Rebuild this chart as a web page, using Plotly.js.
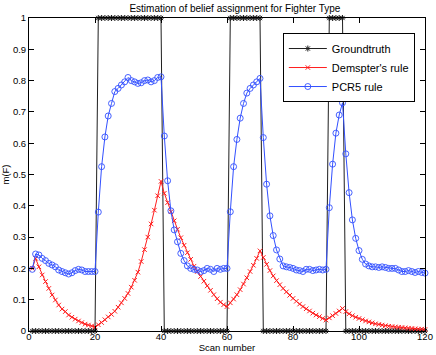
<!DOCTYPE html>
<html><head><meta charset="utf-8">
<script src="https://cdn.plot.ly/plotly-3.0.1.min.js"></script>
<style>html,body{margin:0;padding:0;background:#fff;} #chart{width:436px;height:355px;}</style>
</head><body><div id="chart"></div>
<script>
const scans = [1,2,3,4,5,6,7,8,9,10,11,12,13,14,15,16,17,18,19,20,
  21,22,23,24,25,26,27,28,29,30,31,32,33,34,35,36,37,38,39,40,
  41,42,43,44,45,46,47,48,49,50,51,52,53,54,55,56,57,58,59,60,
  61,62,63,64,65,66,67,68,69,70,71,72,73,74,75,76,77,78,79,80,
  81,82,83,84,85,86,87,88,89,90,91,92,93,94,95,96,97,98,99,100,
  101,102,103,104,105,106,107,108,109,110,111,112,113,114,115,116,117,118,119,120];

const groundtruth = [0,0,0,0,0,0,0,0,0,0,0,0,0,0,0,0,0,0,0,0,
  1,1,1,1,1,1,1,1,1,1,1,1,1,1,1,1,1,1,1,1,
  0,0,0,0,0,0,0,0,0,0,0,0,0,0,0,0,0,0,0,0,
  1,1,1,1,1,1,1,1,1,1,0,0,0,0,0,0,0,0,0,0,
  0,0,0,0,0,0,0,0,0,0,1,1,1,1,1,0,0,0,0,0,
  0,0,0,0,0,0,0,0,0,0,0,0,0,0,0,0,0,0,0,0];

const dempster = [0.200,0.232,0.205,0.179,0.158,0.136,0.115,0.099,0.083,0.070,
  0.062,0.051,0.044,0.038,0.032,0.027,0.022,0.019,0.016,0.013,
  0.020,0.027,0.036,0.045,0.053,0.063,0.076,0.090,0.104,0.120,
  0.140,0.162,0.188,0.222,0.260,0.300,0.342,0.386,0.432,0.478,
  0.440,0.410,0.381,0.352,0.325,0.298,0.274,0.250,0.229,0.207,
  0.190,0.174,0.159,0.144,0.130,0.116,0.103,0.092,0.084,0.078,
  0.090,0.102,0.116,0.132,0.150,0.170,0.190,0.210,0.232,0.256,
  0.235,0.213,0.193,0.176,0.161,0.148,0.136,0.125,0.114,0.104,
  0.095,0.086,0.078,0.071,0.064,0.057,0.051,0.046,0.040,0.035,
  0.042,0.049,0.056,0.064,0.072,0.062,0.055,0.049,0.044,0.040,
  0.036,0.032,0.029,0.026,0.023,0.021,0.019,0.017,0.015,0.014,
  0.013,0.012,0.011,0.010,0.009,0.008,0.007,0.006,0.006,0.005];

const pcr5 = [0.197,0.246,0.243,0.232,0.225,0.216,0.211,0.205,0.195,0.190,
  0.186,0.182,0.186,0.193,0.197,0.195,0.190,0.190,0.190,0.190,
  0.380,0.525,0.620,0.687,0.727,0.765,0.775,0.786,0.796,0.810,
  0.800,0.796,0.791,0.793,0.800,0.802,0.796,0.800,0.810,0.812,
  0.623,0.480,0.384,0.323,0.285,0.248,0.225,0.208,0.200,0.197,
  0.195,0.190,0.193,0.200,0.197,0.190,0.200,0.197,0.200,0.200,
  0.381,0.525,0.612,0.680,0.727,0.760,0.775,0.786,0.796,0.807,
  0.618,0.469,0.368,0.305,0.259,0.230,0.208,0.205,0.203,0.200,
  0.195,0.193,0.190,0.197,0.197,0.193,0.195,0.197,0.195,0.197,
  0.394,0.533,0.632,0.690,0.729,0.566,0.442,0.355,0.296,0.257,
  0.229,0.214,0.208,0.205,0.205,0.203,0.205,0.203,0.200,0.200,
  0.200,0.195,0.190,0.190,0.193,0.190,0.187,0.190,0.187,0.185];

const seriesNames = ['Groundtruth', "Demspter's rule", 'PCR5 rule'];
const xTicks = [0,20,40,60,80,100,120];
const yTicks = [0,0.1,0.2,0.3,0.4,0.5,0.6,0.7,0.8,0.9,1];
const yTickText = ['0','0.1','0.2','0.3','0.4','0.5','0.6','0.7','0.8','0.9','1'];

const FONT = 'Liberation Sans, Arial, Helvetica, sans-serif';
const GT_C = 'rgb(30,30,30)', DS_C = 'rgb(255,30,30)', PC_C = 'rgb(50,80,255)';

const traces = [
  {x: scans, y: groundtruth, name: seriesNames[0], type: 'scatter', mode: 'lines+markers',
   cliponaxis: false,
   line: {color: GT_C, width: 1},
   marker: {symbol: 'asterisk-open', size: 5, color: GT_C, line: {width: 1, color: GT_C}}},
  {x: scans, y: dempster, name: seriesNames[1], type: 'scatter', mode: 'lines+markers',
   cliponaxis: false,
   line: {color: DS_C, width: 1},
   marker: {symbol: 'x-thin-open', size: 4.5, color: DS_C, line: {width: 1, color: DS_C}}},
  {x: scans, y: pcr5, name: seriesNames[2], type: 'scatter', mode: 'lines+markers',
   cliponaxis: false,
   line: {color: PC_C, width: 1},
   marker: {symbol: 'circle-open', size: 6, color: PC_C, line: {width: 0.9, color: PC_C}}}
];

const layout = {
  width: 436, height: 355,
  margin: {l: 29, r: 11, t: 18, b: 24, pad: 0},
  paper_bgcolor: '#fff', plot_bgcolor: '#fff',
  font: {family: FONT, size: 10, color: '#000'},
  showlegend: true,
  title: {text: 'Estimation of belief assignment for Fighter Type', font: {family: FONT, size: 10, color: '#000'},
          x: 0.52, xref: 'paper', xanchor: 'center', y: 0.977, yref: 'container', yanchor: 'middle'},
  xaxis: {range: [0, 120], tickvals: xTicks, ticktext: xTicks.map(String), ticks: 'inside', ticklen: 5,
          tickcolor: '#000', showline: true, linecolor: '#000', linewidth: 1, mirror: 'ticks',
          showgrid: false, zeroline: false, tickfont: {family: FONT, size: 9.5},
          ticklabelstandoff: -3,
          title: {text: 'Scan number', standoff: 0, font: {family: FONT, size: 9.5}}},
  yaxis: {range: [0, 1], tickvals: yTicks, ticktext: yTickText, ticks: 'inside', ticklen: 5,
          tickcolor: '#000', showline: true, linecolor: '#000', linewidth: 1, mirror: 'ticks',
          showgrid: false, zeroline: false, tickfont: {family: FONT, size: 9.5},
          title: {text: 'm(F)', standoff: 2, font: {family: FONT, size: 9.5}}},
  legend: {x: 0.641, y: 0.952, xanchor: 'left', yanchor: 'top', bgcolor: '#fff',
           bordercolor: '#000', borderwidth: 1, font: {family: FONT, size: 11, color: '#000'},
           itemwidth: 38, tracegroupgap: 0}
};

Plotly.newPlot('chart', traces, layout, {displayModeBar: false, staticPlot: true});
</script>
</body></html>
